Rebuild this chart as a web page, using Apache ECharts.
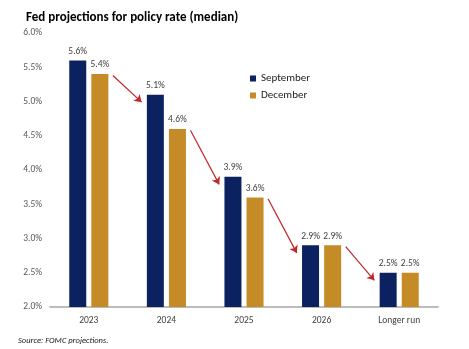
<!DOCTYPE html>
<html>
<head>
<meta charset="utf-8">
<style>
  html, body { margin: 0; padding: 0; background: #ffffff; }
  #chart { width: 469px; height: 349px; }
</style>
<script src="https://cdn.jsdelivr.net/npm/echarts@6/dist/echarts.min.js"></script>
</head>
<body>
<div id="chart"></div>
<script>
// Fed median policy-rate projections, September vs December
const categories = ['2023', '2024', '2025', '2026', 'Longer run'];
const september = [5.6, 5.1, 3.9, 2.9, 2.5];
const december = [5.4, 4.6, 3.6, 2.9, 2.5];
const yTicks = [2.0, 2.5, 3.0, 3.5, 4.0, 4.5, 5.0, 5.5, 6.0];

const NAVY = '#0b2160';
const GOLD = '#c48b27';
const TEXT = '#404040';
const FONT = 'Carlito, "Open Sans", "Liberation Sans", sans-serif';

// Red arrows: from each December bar to the next September bar
const arrows = [];
for (let i = 0; i < categories.length - 1; i++) {
  arrows.push({
    coords: [[i + 0.81, december[i] - 0.02], [i + 1.18, september[i + 1] - 0.11]]
  });
}

const chart = echarts.init(document.getElementById('chart'), null, { renderer: 'canvas' });

chart.setOption({
  animation: false,
  backgroundColor: '#ffffff',
  title: {
    text: 'Fed projections for policy rate (median)',
    left: 21, top: 6,
    textStyle: { fontFamily: FONT, fontSize: 13, fontWeight: 'bold', color: '#000000' }
  },
  graphic: [{
    type: 'text',
    left: 18, top: 336,
    style: {
      text: 'Source: FOMC projections.',
      font: 'italic 8.5px ' + FONT,
      fill: '#222222'
    }
  }],
  legend: {
    orient: 'vertical',
    left: 245, top: 68,
    itemWidth: 6, itemHeight: 6, itemGap: 6,
    icon: 'rect',
    textStyle: { fontFamily: FONT, fontSize: 11, color: '#222222' },
    data: ['September', 'December']
  },
  grid: { left: 50, right: 31, top: 33, bottom: 42 },
  xAxis: [{
    type: 'category',
    data: categories,
    axisLine: { lineStyle: { color: '#a6a6a6', width: 1.5 } },
    axisTick: { show: false },
    axisLabel: { fontFamily: FONT, fontSize: 9.5, color: TEXT, margin: 9 }
  }, {
    type: 'value',
    min: 0, max: categories.length,
    show: false
  }],
  yAxis: {
    type: 'value',
    min: yTicks[0], max: yTicks[yTicks.length - 1], interval: 0.5,
    axisLine: { show: false },
    axisTick: { show: false },
    splitLine: { show: false },
    axisLabel: {
      fontFamily: FONT, fontSize: 9.5, color: '#595959', margin: 8,
      formatter: v => v.toFixed(1) + '%'
    }
  },
  series: [{
    name: 'September',
    type: 'bar',
    data: september,
    barWidth: 17,
    barGap: '30%',
    itemStyle: { color: NAVY },
    label: {
      show: true, position: 'top', distance: 4,
      fontFamily: FONT, fontSize: 9.5, color: TEXT,
      formatter: p => p.value.toFixed(1) + '%'
    }
  }, {
    name: 'December',
    type: 'bar',
    data: december,
    barWidth: 17,
    itemStyle: { color: GOLD },
    label: {
      show: true, position: 'top', distance: 4,
      fontFamily: FONT, fontSize: 9.5, color: TEXT,
      formatter: p => p.value.toFixed(1) + '%'
    }
  }, {
    type: 'lines',
    coordinateSystem: 'cartesian2d',
    xAxisIndex: 1,
    yAxisIndex: 0,
    symbol: ['none', 'arrow'],
    symbolSize: [5, 7],
    lineStyle: { color: '#c0262b', width: 1.2, opacity: 1 },
    data: arrows,
    silent: true,
    z: 5
  }]
});
</script>
</body>
</html>
